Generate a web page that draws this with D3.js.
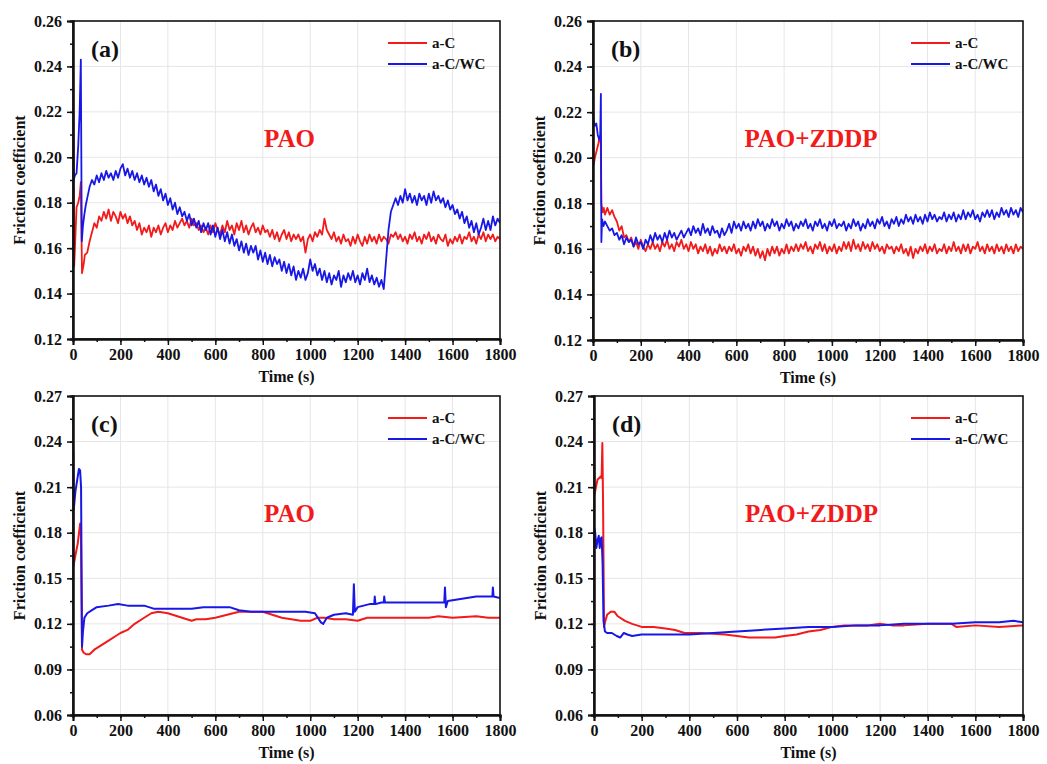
<!DOCTYPE html>
<html>
<head>
<meta charset="utf-8">
<script src="https://cdn.jsdelivr.net/npm/d3@7"></script>
<style>
  body { margin: 0; background: #fff; }
  text { font-family: "Liberation Serif", "Times New Roman", serif; font-weight: bold; }
</style>
</head>
<body>
<svg id="chart" width="1047" height="764"></svg>
<script>
// ---- data ----
const seriesNames = ["a-C", "a-C/WC"];
const xTicks = [0, 200, 400, 600, 800, 1000, 1200, 1400, 1600, 1800];
const yTicksTop = [0.12, 0.14, 0.16, 0.18, 0.20, 0.22, 0.24, 0.26];
const yTicksBottom = [0.06, 0.09, 0.12, 0.15, 0.18, 0.21, 0.24, 0.27];
const bodyStart = 60; // noisy series (a)(b): first value of body at t = 60 s, every 10 s
const bodyStep = 10;

// (a) PAO
const aRedHead = [[0,0.252],[2,0.228],[5,0.152],[10,0.165],[15,0.178],[22,0.180],[28,0.183],[33,0.189],[38,0.149],[45,0.153],[50,0.157]];
const aRedBody = [
  0.158,0.163,0.167,0.171,0.169,0.174,0.172,0.176,0.173,0.177,
  0.172,0.176,0.174,0.171,0.176,0.173,0.175,0.171,0.174,0.170,
  0.172,0.168,0.171,0.166,0.169,0.167,0.170,0.165,0.169,0.167,
  0.170,0.166,0.169,0.171,0.167,0.170,0.168,0.172,0.169,0.171,
  0.173,0.170,0.172,0.169,0.173,0.170,0.171,0.168,0.170,0.167,
  0.169,0.166,0.170,0.167,0.171,0.168,0.166,0.170,0.167,0.172,
  0.168,0.170,0.166,0.171,0.168,0.172,0.167,0.170,0.166,0.169,
  0.171,0.167,0.169,0.166,0.170,0.167,0.168,0.165,0.168,0.164,
  0.167,0.163,0.166,0.168,0.164,0.167,0.163,0.166,0.164,0.166,
  0.163,0.165,0.158,0.164,0.166,0.163,0.167,0.165,0.168,0.166,
  0.173,0.168,0.166,0.164,0.167,0.163,0.165,0.162,0.166,0.163,
  0.164,0.161,0.165,0.162,0.166,0.163,0.161,0.165,0.162,0.166,
  0.163,0.165,0.162,0.166,0.163,0.165,0.164,0.162,0.166,0.165,
  0.167,0.164,0.166,0.163,0.165,0.162,0.166,0.164,0.167,0.163,
  0.165,0.162,0.166,0.164,0.167,0.163,0.165,0.162,0.166,0.164,
  0.163,0.166,0.161,0.164,0.162,0.165,0.163,0.166,0.162,0.165,
  0.164,0.167,0.163,0.165,0.162,0.166,0.164,0.167,0.163,0.166,
  0.164,0.166,0.163,0.165,0.164
];
const aBlueHead = [[0,0.228],[3,0.190],[8,0.192],[15,0.193],[22,0.205],[28,0.220],[33,0.243],[37,0.163],[42,0.170],[48,0.175],[54,0.179]];
const aBlueBody = [
  0.182,0.187,0.190,0.188,0.192,0.189,0.193,0.190,0.194,0.191,
  0.193,0.190,0.194,0.191,0.195,0.197,0.192,0.195,0.191,0.194,
  0.190,0.193,0.189,0.192,0.188,0.191,0.187,0.190,0.185,0.188,
  0.183,0.186,0.181,0.184,0.179,0.182,0.177,0.180,0.175,0.178,
  0.174,0.176,0.172,0.175,0.170,0.173,0.169,0.172,0.167,0.171,
  0.168,0.171,0.166,0.170,0.165,0.169,0.164,0.168,0.163,0.167,
  0.162,0.166,0.161,0.164,0.159,0.163,0.158,0.162,0.157,0.161,
  0.158,0.161,0.155,0.159,0.154,0.158,0.153,0.157,0.152,0.156,
  0.153,0.155,0.150,0.154,0.149,0.153,0.148,0.152,0.146,0.150,
  0.147,0.151,0.146,0.149,0.155,0.150,0.153,0.148,0.151,0.146,
  0.150,0.145,0.149,0.144,0.148,0.146,0.150,0.143,0.148,0.145,
  0.149,0.146,0.150,0.145,0.148,0.144,0.149,0.146,0.151,0.145,
  0.148,0.144,0.147,0.143,0.146,0.142,0.155,0.168,0.176,0.179,
  0.182,0.179,0.183,0.180,0.186,0.181,0.184,0.180,0.183,0.179,
  0.184,0.181,0.183,0.179,0.184,0.180,0.185,0.181,0.183,0.180,
  0.182,0.178,0.181,0.177,0.179,0.175,0.177,0.173,0.176,0.171,
  0.174,0.169,0.172,0.167,0.171,0.166,0.169,0.173,0.168,0.172,
  0.168,0.174,0.170,0.173,0.171
];

// (b) PAO+ZDDP
const bRedHead = [[0,0.240],[3,0.197],[8,0.200],[15,0.203],[22,0.206],[28,0.209],[32,0.210],[35,0.180],[40,0.176],[45,0.178],[50,0.175]];
const bRedBody = [
  0.178,0.175,0.177,0.174,0.172,0.168,0.170,0.165,0.166,0.163,
  0.165,0.161,0.163,0.160,0.164,0.161,0.159,0.162,0.160,0.163,
  0.160,0.162,0.159,0.163,0.161,0.164,0.160,0.162,0.159,0.163,
  0.161,0.164,0.160,0.162,0.159,0.163,0.160,0.162,0.158,0.161,
  0.159,0.162,0.158,0.161,0.157,0.160,0.158,0.162,0.159,0.161,
  0.158,0.161,0.159,0.162,0.158,0.160,0.157,0.161,0.159,0.162,
  0.158,0.161,0.157,0.160,0.156,0.159,0.155,0.160,0.157,0.161,
  0.158,0.161,0.157,0.160,0.158,0.162,0.158,0.161,0.159,0.162,
  0.159,0.162,0.160,0.163,0.159,0.161,0.158,0.162,0.160,0.163,
  0.159,0.162,0.158,0.161,0.159,0.162,0.158,0.161,0.159,0.163,
  0.160,0.163,0.159,0.164,0.160,0.162,0.159,0.163,0.160,0.162,
  0.159,0.163,0.160,0.162,0.159,0.161,0.158,0.162,0.160,0.161,
  0.158,0.161,0.159,0.162,0.158,0.160,0.157,0.161,0.156,0.160,
  0.158,0.161,0.159,0.162,0.158,0.161,0.159,0.162,0.158,0.160,
  0.159,0.162,0.158,0.161,0.159,0.163,0.159,0.161,0.158,0.162,
  0.159,0.162,0.158,0.161,0.160,0.163,0.159,0.161,0.158,0.162,
  0.159,0.161,0.158,0.162,0.159,0.161,0.158,0.162,0.159,0.161,
  0.158,0.162,0.159,0.161,0.160
];
const bBlueHead = [[0,0.222],[3,0.216],[8,0.214],[14,0.215],[20,0.210],[26,0.208],[30,0.209],[33,0.228],[35,0.163],[38,0.173],[44,0.170],[50,0.172]];
const bBlueBody = [
  0.170,0.168,0.169,0.166,0.167,0.164,0.166,0.162,0.165,0.163,
  0.164,0.161,0.165,0.162,0.163,0.160,0.164,0.162,0.166,0.163,
  0.167,0.164,0.166,0.163,0.167,0.164,0.168,0.165,0.167,0.164,
  0.166,0.168,0.165,0.167,0.169,0.166,0.170,0.167,0.169,0.166,
  0.171,0.167,0.169,0.166,0.170,0.167,0.168,0.165,0.169,0.166,
  0.168,0.171,0.167,0.172,0.169,0.171,0.168,0.172,0.169,0.171,
  0.168,0.172,0.169,0.173,0.170,0.172,0.168,0.171,0.169,0.173,
  0.170,0.172,0.168,0.171,0.169,0.173,0.170,0.172,0.168,0.171,
  0.169,0.172,0.170,0.173,0.169,0.171,0.168,0.172,0.170,0.173,
  0.169,0.171,0.168,0.172,0.170,0.173,0.169,0.171,0.170,0.172,
  0.168,0.171,0.169,0.173,0.170,0.172,0.168,0.171,0.169,0.173,
  0.170,0.172,0.169,0.173,0.171,0.174,0.170,0.172,0.169,0.173,
  0.171,0.174,0.170,0.173,0.171,0.175,0.172,0.174,0.171,0.175,
  0.172,0.174,0.171,0.175,0.172,0.176,0.173,0.175,0.172,0.174,
  0.173,0.176,0.172,0.175,0.173,0.176,0.172,0.175,0.173,0.177,
  0.173,0.176,0.174,0.177,0.173,0.175,0.172,0.176,0.174,0.177,
  0.174,0.177,0.173,0.176,0.174,0.178,0.175,0.177,0.174,0.178,
  0.175,0.177,0.174,0.178,0.176
];

// (c) PAO, smoother series given as [time, value]
const cRed = [[0,0.238],[2,0.158],[10,0.165],[20,0.173],[30,0.186],[33,0.186],[38,0.103],[45,0.101],[55,0.100],[70,0.100],[90,0.103],[120,0.106],[150,0.109],[180,0.112],[200,0.114],[230,0.116],[260,0.120],[300,0.124],[330,0.127],[360,0.128],[400,0.127],[440,0.125],[480,0.123],[500,0.122],[520,0.123],[560,0.123],[600,0.124],[650,0.126],[700,0.128],[750,0.128],[800,0.128],[840,0.126],[880,0.124],[920,0.123],[960,0.122],[1000,0.122],[1030,0.124],[1060,0.124],[1100,0.123],[1150,0.123],[1200,0.122],[1240,0.124],[1300,0.124],[1400,0.124],[1500,0.124],[1540,0.125],[1600,0.124],[1700,0.125],[1750,0.124],[1800,0.124]];
const cBlue = [[0,0.060],[1,0.235],[3,0.195],[10,0.207],[18,0.215],[25,0.222],[30,0.221],[34,0.210],[38,0.105],[42,0.115],[48,0.124],[60,0.127],[80,0.129],[100,0.131],[150,0.132],[190,0.133],[230,0.132],[300,0.132],[340,0.130],[400,0.130],[450,0.130],[500,0.130],[550,0.131],[600,0.131],[660,0.131],[700,0.129],[750,0.128],[800,0.128],[900,0.128],[980,0.128],[1020,0.127],[1045,0.121],[1055,0.120],[1070,0.124],[1100,0.126],[1150,0.127],[1180,0.126],[1184,0.146],[1188,0.128],[1200,0.131],[1250,0.133],[1270,0.133],[1272,0.138],[1275,0.133],[1300,0.134],[1310,0.134],[1312,0.138],[1315,0.134],[1400,0.134],[1500,0.134],[1565,0.134],[1568,0.144],[1572,0.131],[1580,0.135],[1620,0.136],[1660,0.137],[1700,0.138],[1740,0.138],[1768,0.138],[1770,0.144],[1773,0.138],[1800,0.137]];

// (d) PAO+ZDDP
const dRed = [[0,0.270],[2,0.205],[8,0.210],[15,0.215],[22,0.216],[28,0.217],[32,0.216],[35,0.239],[38,0.200],[42,0.118],[48,0.122],[55,0.126],[70,0.128],[85,0.128],[100,0.125],[130,0.122],[160,0.120],[200,0.118],[250,0.118],[300,0.117],[340,0.116],[380,0.114],[450,0.114],[550,0.113],[600,0.112],[650,0.111],[700,0.111],[760,0.111],[800,0.112],[850,0.113],[900,0.115],[950,0.116],[1000,0.118],[1050,0.119],[1100,0.119],[1150,0.119],[1200,0.120],[1250,0.119],[1300,0.119],[1400,0.120],[1500,0.120],[1520,0.118],[1600,0.119],[1700,0.118],[1800,0.119]];
const dBlue = [[0,0.060],[1,0.183],[5,0.180],[10,0.170],[15,0.175],[20,0.178],[24,0.170],[28,0.176],[32,0.177],[36,0.160],[40,0.122],[46,0.115],[55,0.114],[75,0.114],[95,0.112],[110,0.111],[125,0.114],[140,0.113],[160,0.112],[200,0.113],[300,0.113],[400,0.113],[500,0.114],[600,0.115],[700,0.116],[800,0.117],[900,0.118],[1000,0.118],[1100,0.119],[1200,0.119],[1300,0.120],[1400,0.120],[1500,0.120],[1600,0.121],[1700,0.121],[1760,0.122],[1800,0.121]];

// ---- build series ----
function withBody(head, body) {
  return head.concat(body.map((v, i) => [bodyStart + i * bodyStep, v]));
}

const RED = "#f21a1a";
const BLUE = "#1818e6";

const panels = [
  { tag: "(a)", lube: "PAO", left: 73, top: 21, right: 500, bottom: 339,
    yTicks: yTicksTop, yMinor: 0.01, width: 1.8,
    series: [withBody(aRedHead, aRedBody), withBody(aBlueHead, aBlueBody)] },
  { tag: "(b)", lube: "PAO+ZDDP", left: 593, top: 21, right: 1023, bottom: 340,
    yTicks: yTicksTop, yMinor: 0.01, width: 1.8,
    series: [withBody(bRedHead, bRedBody), withBody(bBlueHead, bBlueBody)] },
  { tag: "(c)", lube: "PAO", left: 73, top: 396, right: 500, bottom: 715,
    yTicks: yTicksBottom, yMinor: 0.015, width: 2,
    series: [cRed, cBlue] },
  { tag: "(d)", lube: "PAO+ZDDP", left: 594, top: 396, right: 1023, bottom: 715,
    yTicks: yTicksBottom, yMinor: 0.015, width: 2,
    series: [dRed, dBlue] },
];

const svg = d3.select("#chart");
const colors = [RED, BLUE];

panels.forEach((p, pi) => {
  const x = d3.scaleLinear().domain([0, 1800]).range([p.left, p.right]);
  const yDomain = d3.extent(p.yTicks);
  const y = d3.scaleLinear().domain(yDomain).range([p.bottom, p.top]);
  const g = svg.append("g");

  // grid
  g.append("g").selectAll("line.gx").data(xTicks.slice(1, -1)).join("line")
    .attr("x1", (d) => x(d)).attr("x2", (d) => x(d))
    .attr("y1", p.top).attr("y2", p.bottom)
    .attr("stroke", "#e6e6e6").attr("stroke-width", 1);
  g.append("g").selectAll("line.gy").data(p.yTicks.slice(1, -1)).join("line")
    .attr("x1", p.left).attr("x2", p.right)
    .attr("y1", (d) => y(d)).attr("y2", (d) => y(d))
    .attr("stroke", "#e6e6e6").attr("stroke-width", 1);

  // data
  const clipId = "clip" + pi;
  svg.append("clipPath").attr("id", clipId).append("rect")
    .attr("x", p.left).attr("y", p.top)
    .attr("width", p.right - p.left).attr("height", p.bottom - p.top);
  const line = d3.line().x((d) => x(d[0])).y((d) => y(d[1]));
  g.append("g").attr("clip-path", `url(#${clipId})`)
    .selectAll("path").data(p.series).join("path")
    .attr("d", line)
    .attr("fill", "none")
    .attr("stroke", (d, i) => colors[i])
    .attr("stroke-width", p.width)
    .attr("stroke-linejoin", "round");

  // frame
  g.append("rect")
    .attr("x", p.left).attr("y", p.top)
    .attr("width", p.right - p.left).attr("height", p.bottom - p.top)
    .attr("fill", "none").attr("stroke", "#111").attr("stroke-width", 1.6);

  // axes
  const minorX = d3.range(0, 1801, 100);
  const minorY = d3.range(yDomain[0], yDomain[1] + 1e-9, p.yMinor);
  const xAxis = d3.axisBottom(x).tickValues(xTicks).tickFormat(d3.format("d"))
    .tickSize(6).tickPadding(4);
  const yAxis = d3.axisLeft(y).tickValues(p.yTicks).tickFormat(d3.format(".2f"))
    .tickSize(6).tickPadding(5);
  const gx = g.append("g").attr("transform", `translate(0,${p.bottom})`).call(xAxis);
  const gy = g.append("g").attr("transform", `translate(${p.left},0)`).call(yAxis);
  g.append("g").attr("transform", `translate(0,${p.bottom})`)
    .call(d3.axisBottom(x).tickValues(minorX).tickSize(3).tickFormat(""));
  g.append("g").attr("transform", `translate(${p.left},0)`)
    .call(d3.axisLeft(y).tickValues(minorY).tickSize(3).tickFormat(""));
  g.selectAll(".domain").attr("stroke", "#111").attr("stroke-width", 2);
  g.selectAll(".tick line").attr("stroke", "#111").attr("stroke-width", 1.5);
  [gx, gy].forEach((a) => a.selectAll("text")
    .attr("fill", "#111").style("font-size", "16px")
    .style("font-family", "'Liberation Serif', serif").style("font-weight", "bold"));

  // axis titles
  g.append("text")
    .attr("x", (p.left + p.right) / 2).attr("y", p.bottom + 43)
    .attr("text-anchor", "middle").style("font-size", "16px").attr("fill", "#111")
    .text("Time (s)");
  g.append("text")
    .attr("transform", `translate(${p.left - 48},${(p.top + p.bottom) / 2}) rotate(-90)`)
    .attr("text-anchor", "middle").style("font-size", "16px").attr("fill", "#111")
    .text("Friction coefficient");

  // panel tag and lubricant label
  g.append("text").attr("x", p.left + 18).attr("y", p.top + 36)
    .style("font-size", "24px").attr("fill", "#111").text(p.tag);
  g.append("text").attr("x", (p.left + p.right) / 2 + 3).attr("y", p.top + 126)
    .attr("text-anchor", "middle").style("font-size", "25px").attr("fill", RED)
    .text(p.lube);

  // legend
  const lg = g.append("g");
  seriesNames.forEach((name, i) => {
    const ly = p.top + 22 + i * 21;
    lg.append("line")
      .attr("x1", p.right - 112).attr("x2", p.right - 73)
      .attr("y1", ly).attr("y2", ly)
      .attr("stroke", colors[i]).attr("stroke-width", 2);
    lg.append("text").attr("x", p.right - 68).attr("y", ly + 5)
      .style("font-size", "15px").attr("fill", "#111").text(name);
  });
});
</script>
</body>
</html>
